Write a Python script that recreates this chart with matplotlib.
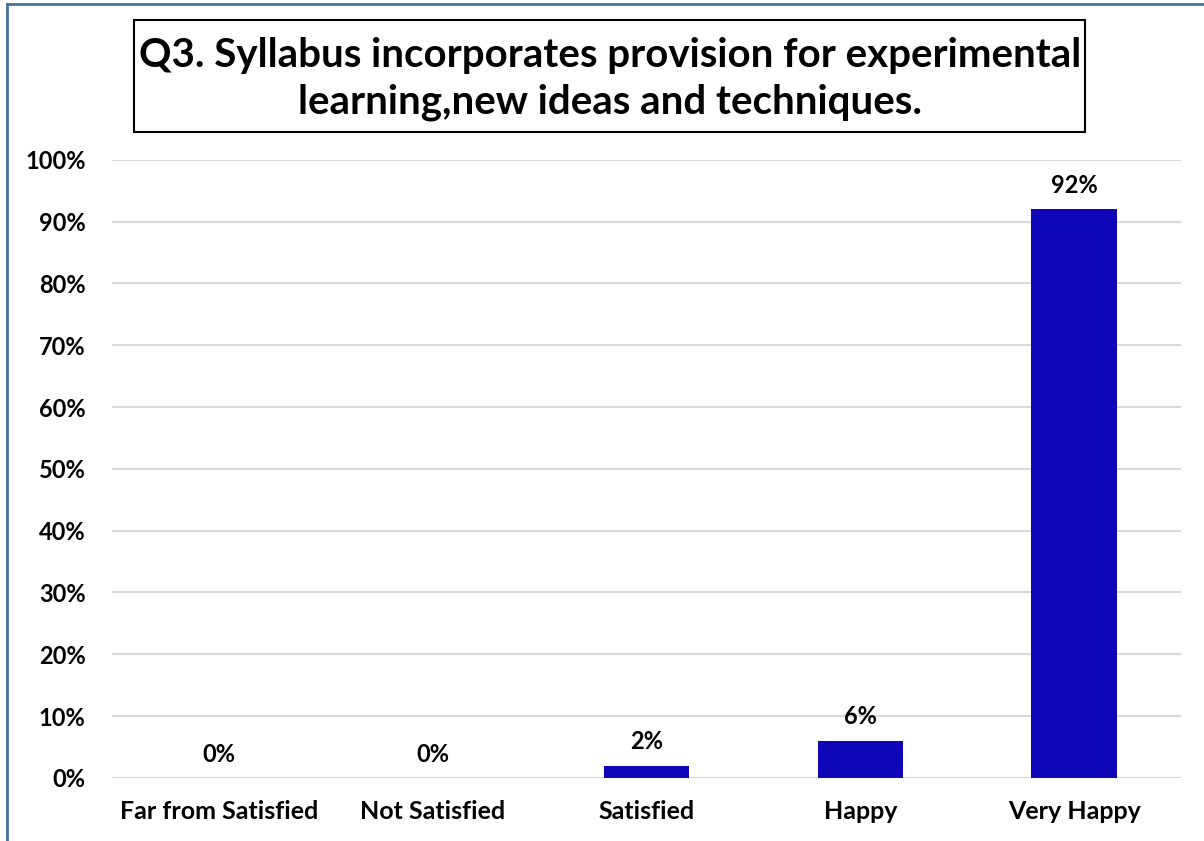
import numpy as np
import matplotlib.pyplot as plt
from matplotlib.patches import Rectangle
from matplotlib.lines import Line2D

categories = ['Far from Satisfied', 'Not Satisfied', 'Satisfied', 'Happy', 'Very Happy']
values = [0, 0, 2, 6, 92]
yticks = [0, 10, 20, 30, 40, 50, 60, 70, 80, 90, 100]

plt.rcParams['font.family'] = ['Lato', 'DejaVu Sans']
plt.rcParams['font.weight'] = 'bold'

fig = plt.figure(figsize=(12.04, 8.41), dpi=100)
ax = fig.add_axes([0.093, 0.075, 0.888, 0.735])

x = np.arange(len(categories))
ax.bar(x, values, width=0.40, color='#0f06b8', zorder=3)
for xi, v in zip(x, values):
    ax.text(xi, v + 2.0, f'{v}%', ha='center', va='bottom', fontsize=17, fontweight='bold')

ax.set_xlim(-0.5, len(categories) - 0.5)
ax.set_ylim(0, 100)
ax.set_yticks(yticks)
ax.set_yticklabels([f'{t}%' for t in yticks], fontsize=17, fontweight='bold')
ax.set_xticks(x)
ax.set_xticklabels(categories, fontsize=18, fontweight='bold')
ax.tick_params(axis='y', length=0, pad=19)
ax.tick_params(axis='x', length=0, pad=16)
ax.grid(axis='y', color='#d9d9d9', linewidth=1.5, zorder=0)
for s in ax.spines.values():
    s.set_visible(False)

fig.text(0.507, 0.906,
         'Q3. Syllabus incorporates provision for experimental\nlearning,new ideas and techniques.',
         ha='center', va='center', fontsize=29, fontweight='bold', linespacing=1.3)
fig.patches.append(Rectangle((134 / 1204, 1 - 132 / 841), (1085 - 134) / 1204, (132 - 20) / 841,
                             transform=fig.transFigure, fill=False, edgecolor='black', linewidth=1.5))

# outer frame (top and left edges visible)
fig.lines.append(Line2D([7 / 1204, 1], [1 - 4 / 841, 1 - 4 / 841], transform=fig.transFigure,
                        color='#44709c', linewidth=2))
fig.lines.append(Line2D([7 / 1204, 7 / 1204], [0, 1 - 4 / 841], transform=fig.transFigure,
                        color='#44709c', linewidth=2))

fig.savefig('out.png', dpi=100)
